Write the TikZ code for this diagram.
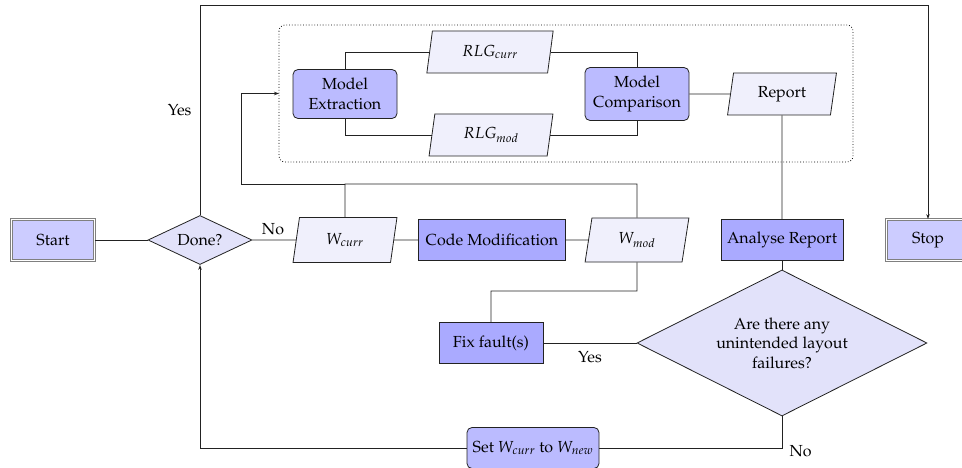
\documentclass[tikz,border=0pt]{standalone}
\usepackage[T1]{fontenc}
\usepackage{mathpazo}
\usetikzlibrary{shapes.geometric,arrows.meta,calc}

\definecolor{termfill}{HTML}{CCCCFF}
\definecolor{decfill}{HTML}{E2E2FA}
\definecolor{iofill}{HTML}{F0F0FC}
\definecolor{procfill}{HTML}{AAAAFF}
\definecolor{softfill}{HTML}{BBBBFF}
\definecolor{linecol}{HTML}{222222}

\tikzset{
  base/.style={draw=linecol, line width=0.8pt, align=center, inner sep=1pt},
  terminal/.style={base, rectangle, draw=gray, double=white, double distance=1.2pt, fill=termfill, minimum width=83pt, minimum height=41pt},
  decision/.style={base, diamond, aspect=2, fill=decfill, inner sep=0pt},
  iobox/.style={base, trapezium, trapezium left angle=80, trapezium right angle=100, trapezium stretches=true, fill=iofill},
  process/.style={base, rectangle, fill=procfill, minimum height=41pt},
  softproc/.style={base, rectangle, rounded corners=5pt, fill=softfill},
  link/.style={draw=linecol, line width=0.8pt},
  arrowlink/.style={link, -{Stealth[length=5pt,width=3.5pt]}},
}

\begin{document}
\begin{tikzpicture}[x=1pt, y=-1pt, font=\fontsize{16}{19.5}\selectfont]
\useasboundingbox (0,0) rectangle (962,468);

% grouped model stage
\draw[dotted, line width=0.8pt, rounded corners=6pt] (279,25) rectangle (853,162);
\coordinate (grp) at (279,93.5);

% main line
\node[terminal] (start) at (53,240) {Start};
\node[decision, minimum width=104pt, minimum height=49pt] (done) at (200,240) {Done?};
\node[iobox, minimum width=104pt, minimum height=45pt] (wcurr) at (345,240) {$W_{curr}$};
\node[process, minimum width=147pt] (codemod) at (492,240) {Code Modification};
\node[iobox, minimum width=104pt, minimum height=44pt] (wmod) at (637,240) {$W_{mod}$};
\node[process, minimum width=122pt] (analyse) at (782,240) {Analyse Report};
\node[terminal] (stop) at (928,240) {Stop};

% model stage
\node[softproc, minimum width=104pt, minimum height=49pt] (mext) at (345,94) {Model\\Extraction};
\node[softproc, minimum width=104pt, minimum height=53pt] (mcomp) at (637,94) {Model\\Comparison};
\node[iobox, minimum width=127pt, minimum height=42pt] (rlgc) at (490,52) {$RLG_{curr}$};
\node[iobox, minimum width=124pt, minimum height=42pt] (rlgm) at (491,135) {$RLG_{mod}$};
\node[iobox, minimum width=109pt, minimum height=42pt] (report) at (782,94) {Report};

% checking and fixing
\node[process, minimum width=104pt] (fix) at (491,343) {Fix fault(s)};
\node[decision, minimum width=290pt, minimum height=146pt] (check) at (782,343) {Are there any\\unintended layout\\failures?};
\node[softproc, minimum width=132pt, minimum height=41pt] (setw) at (533,448) {Set $W_{curr}$ to $W_{new}$};

% junctions
\coordinate (top) at (200,5);
\coordinate (split) at (345,184);
\coordinate (splitl) at (241,184);
\coordinate (drop) at (637,291);

% connectors
\draw[link] (start) -- (done);
\draw[link] (done) -- (wcurr);
\draw[link] (wcurr) -- (codemod);
\draw[link] (codemod) -- (wmod);
\draw[arrowlink] (done.north) -- (top) -| (stop.north);
\draw[link] (wcurr.north) -- (split) -| (wmod.north);
\draw[arrowlink] (split) -- (splitl) |- (grp);
\draw[link] (mext.north) |- (rlgc.west);
\draw[link] (rlgc.east) -| (mcomp.north);
\draw[link] (mext.south) |- (rlgm.west);
\draw[link] (rlgm.east) -| (mcomp.south);
\draw[link] (mcomp) -- (report);
\draw[link] (report.south) -- (analyse.north);
\draw[link] (analyse.south) -- (check.north);
\draw[link] (wmod.south) -- (drop) -| (fix.north);
\draw[link] (fix) -- (check);
\draw[link] (check.south) |- (setw.east);
\draw[arrowlink] (setw.west) -| (done.south);

% branch labels
\node[anchor=base] (lno1) at (273,234) {No};
\node[anchor=base east] (lyes1) at (195,116) {Yes};
\node[anchor=base] (lyes2) at (590,362) {Yes};
\node[anchor=base west] (lno2) at (786,456) {No};
\end{tikzpicture}
\end{document}
